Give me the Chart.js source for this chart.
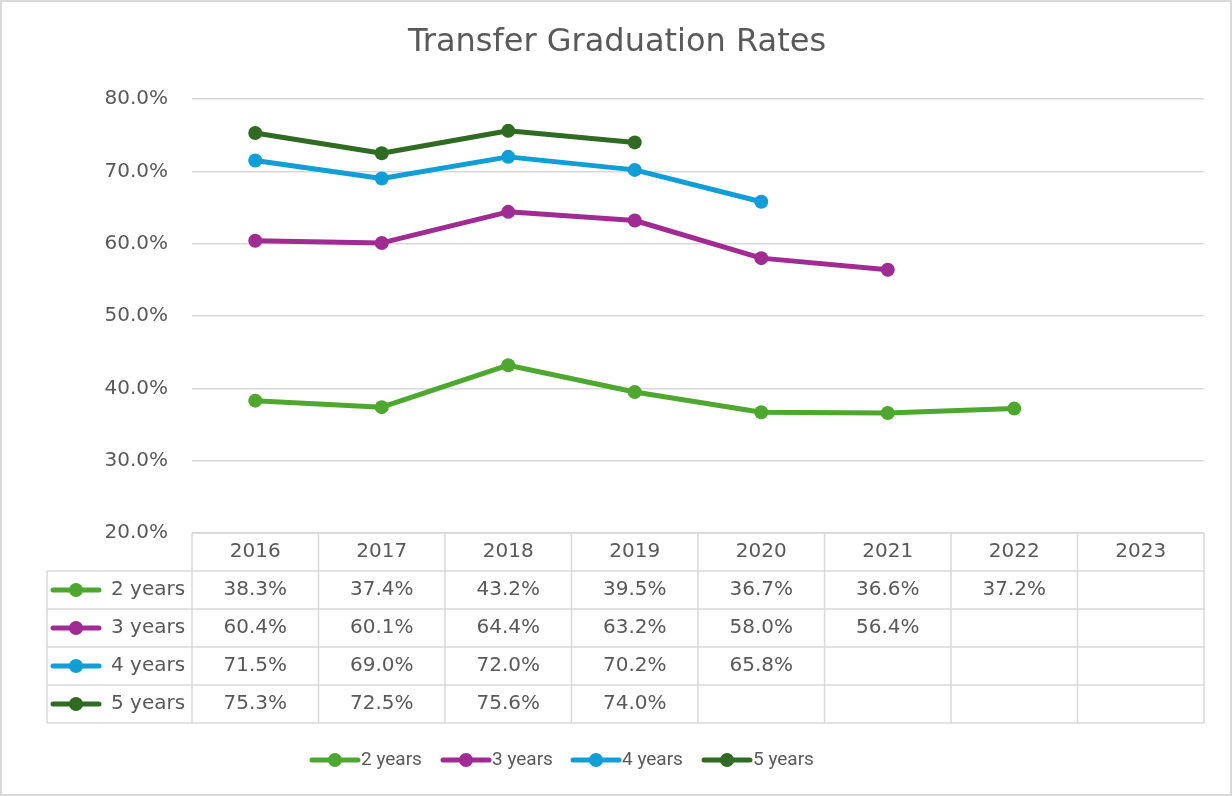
<!DOCTYPE html>
<html>
<head>
<meta charset="utf-8">
<script src="https://cdn.jsdelivr.net/npm/chart.js@4"></script>
<style>
  html, body { margin: 0; padding: 0; background: #fff; }
  #wrap { width: 1232px; height: 796px; position: relative; }
</style>
</head>
<body>
<div id="wrap"><canvas id="grafico"></canvas></div>
<script>
const titulo = 'Transfer Graduation Rates'
const anos = ['2016', '2017', '2018', '2019', '2020', '2021', '2022', '2023']
const series = ['2 years', '3 years', '4 years', '5 years']
const taxa2 = [38.3, 37.4, 43.2, 39.5, 36.7, 36.6, 37.2, null]
const taxa3 = [60.4, 60.1, 64.4, 63.2, 58.0, 56.4, null, null]
const taxa4 = [71.5, 69.0, 72.0, 70.2, 65.8, null, null, null]
const taxa5 = [75.3, 72.5, 75.6, 74.0, null, null, null, null]
const cores = ['#4ea72e', '#a02b93', '#0f9ed5', '#306b23']

const fonte = '"DejaVu Sans", sans-serif'
const fonteLegenda = 'Roboto, "Open Sans", sans-serif'
const cinzaTexto = '#595959'
const cinzaLinha = '#d9d9d9'

// desenha o marcador da legenda (linha + bolinha)
function marcador(ctx, x, y, cor) {
    ctx.save()
    ctx.strokeStyle = cor
    ctx.lineWidth = 5
    ctx.lineCap = 'round'
    ctx.beginPath()
    ctx.moveTo(x, y)
    ctx.lineTo(x + 46, y)
    ctx.stroke()
    ctx.fillStyle = cor
    ctx.beginPath()
    ctx.arc(x + 23, y, 7, 0, Math.PI * 2)
    ctx.fill()
    ctx.restore()
}

const extras = {
    id: 'extras',
    afterDraw(chart) {
        const ctx = chart.ctx
        const area = chart.chartArea
        const x = chart.scales.x
        const larg = area.width / anos.length
        const alt = 38
        const topo = area.bottom
        const esq = 47

        ctx.save()
        // borda externa
        ctx.strokeStyle = cinzaLinha
        ctx.lineWidth = 2
        ctx.strokeRect(1, 1, chart.width - 2, chart.height - 2)

        // titulo
        ctx.fillStyle = cinzaTexto
        ctx.font = '32px ' + fonte
        ctx.textAlign = 'center'
        ctx.textBaseline = 'middle'
        ctx.fillText(titulo, 617, 43)

        // tabela de dados
        const dados = chart.data.datasets
        ctx.strokeStyle = cinzaLinha
        ctx.lineWidth = 1.5
        ctx.beginPath()
        for (let r = 0; r <= dados.length + 1; r++) {
            const y = topo + r * alt
            ctx.moveTo(r === 0 ? area.left : esq, y)
            ctx.lineTo(area.right, y)
        }
        ctx.moveTo(esq, topo + alt)
        ctx.lineTo(esq, topo + alt * (dados.length + 1))
        for (let c = 0; c <= anos.length; c++) {
            const xx = area.left + c * larg
            ctx.moveTo(xx, topo)
            ctx.lineTo(xx, topo + alt * (dados.length + 1))
        }
        ctx.stroke()

        ctx.font = '20px ' + fonte
        ctx.fillStyle = cinzaTexto
        ctx.textAlign = 'center'
        anos.forEach((a, i) => {
            ctx.fillText(a, x.getPixelForValue(i), topo + alt / 2)
        })
        dados.forEach((ds, r) => {
            const y = topo + alt * (r + 1) + alt / 2
            marcador(ctx, 53, y, ds.borderColor)
            ctx.fillStyle = cinzaTexto
            ctx.textAlign = 'left'
            ctx.fillText(ds.label, 111, y)
            ctx.textAlign = 'center'
            ds.data.forEach((v, i) => {
                if (v !== null) ctx.fillText(v.toFixed(1) + '%', x.getPixelForValue(i), y)
            })
        })

        // legenda inferior
        ctx.font = '19px ' + fonteLegenda
        const posLegenda = [312, 443, 573, 704]
        dados.forEach((ds, i) => {
            marcador(ctx, posLegenda[i], 760, ds.borderColor)
            ctx.fillStyle = cinzaTexto
            ctx.textAlign = 'left'
            ctx.fillText(ds.label, posLegenda[i] + 49, 760)
        })
        ctx.restore()
    }
}

const listas = [taxa2, taxa3, taxa4, taxa5]

new Chart(document.querySelector('#grafico'), {
    type: 'line',
    data: {
        labels: anos,
        datasets: series.map((nome, i) => ({
            label: nome,
            data: listas[i],
            borderColor: cores[i],
            backgroundColor: cores[i],
            borderWidth: 5,
            borderCapStyle: 'round',
            borderJoinStyle: 'round',
            pointRadius: 7,
            pointHoverRadius: 7,
            pointBorderWidth: 0,
            spanGaps: false
        }))
    },
    options: {
        responsive: true,
        maintainAspectRatio: false,
        animation: false,
        layout: { padding: { left: 0, top: 99, right: 28, bottom: 263 } },
        plugins: {
            legend: { display: false },
            title: { display: false },
            tooltip: { enabled: false }
        },
        scales: {
            x: { display: false, offset: true },
            y: {
                min: 20,
                max: 80,
                afterFit: (s) => { s.width = 192 },
                border: { display: false },
                grid: { color: cinzaLinha, lineWidth: 1.5, drawTicks: false },
                ticks: {
                    stepSize: 10,
                    padding: 24,
                    color: cinzaTexto,
                    font: { family: fonte, size: 20 },
                    callback: (v) => v.toFixed(1) + '%'
                }
            }
        }
    },
    plugins: [extras]
})
</script>
</body>
</html>
